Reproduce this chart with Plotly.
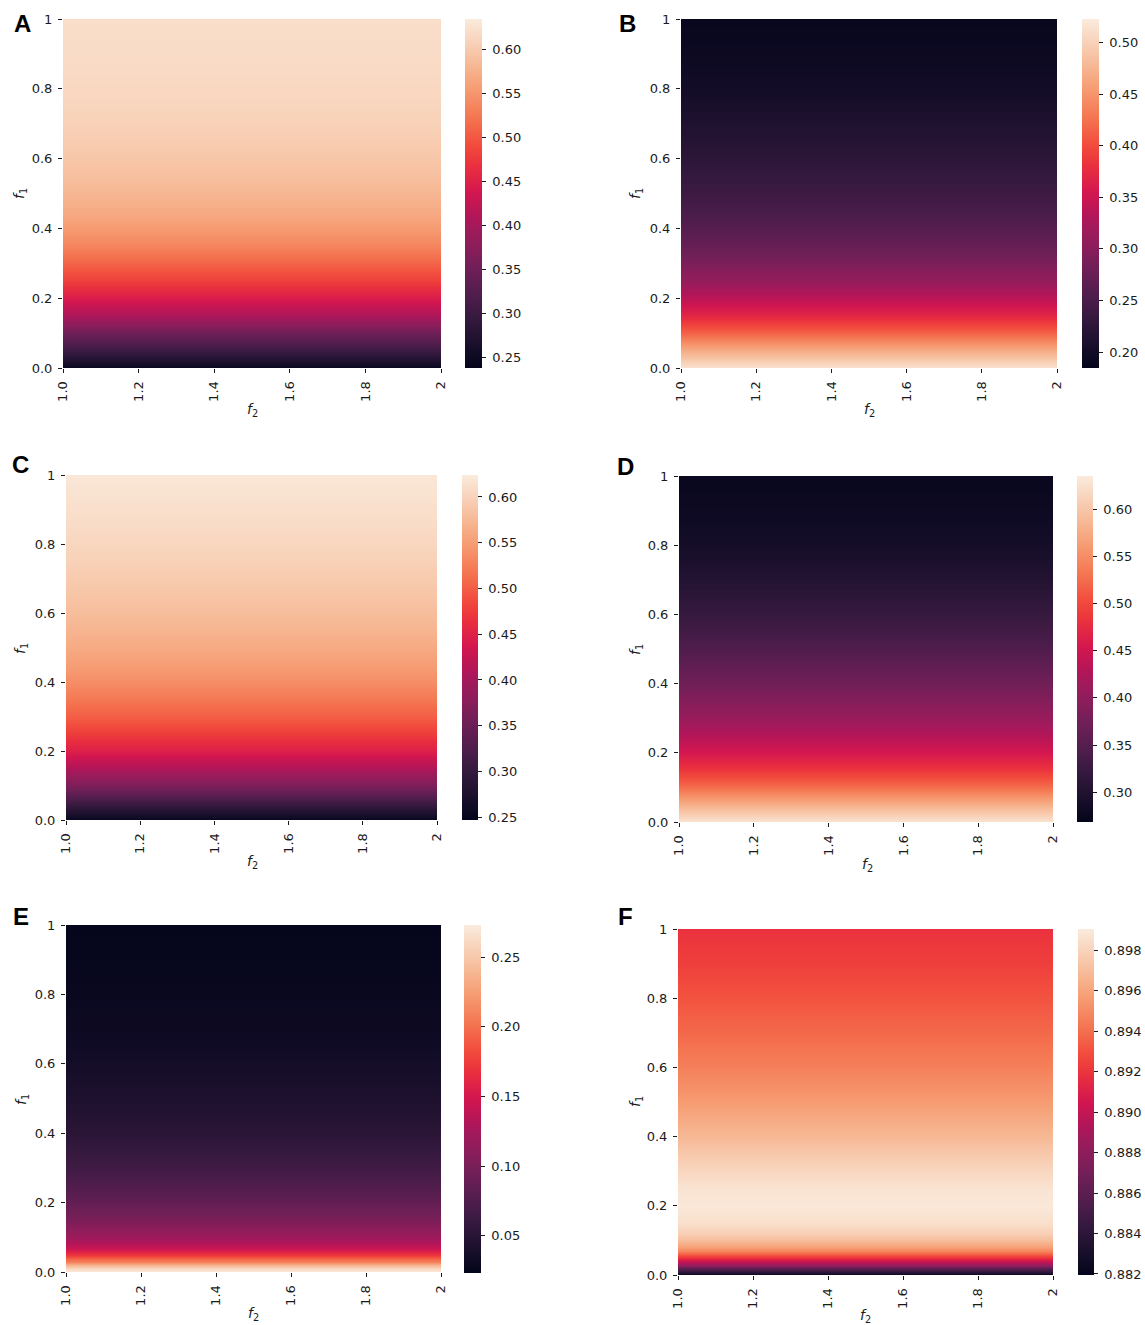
import plotly.graph_objects as go

W, H = 1145, 1325

# ---------------- data ----------------
f2_cols = [1.0, 2.0]
f2_tickvals = [1.0, 1.2, 1.4, 1.6, 1.8, 2.0]
f2_ticktext = ["1.0", "1.2", "1.4", "1.6", "1.8", "2"]
f1_tickvals = [0.0, 0.2, 0.4, 0.6, 0.8, 1.0]
f1_ticktext = ["0.0", "0.2", "0.4", "0.6", "0.8", "1"]

grid21 = [0.00, 0.05, 0.10, 0.15, 0.20, 0.25, 0.30, 0.35, 0.40, 0.45, 0.50,
          0.55, 0.60, 0.65, 0.70, 0.75, 0.80, 0.85, 0.90, 0.95, 1.00]

# Panel A
a_f1 = grid21
a_vals = [0.245, 0.300, 0.350, 0.405, 0.445, 0.480, 0.510, 0.535, 0.555, 0.570, 0.580,
          0.590, 0.597, 0.603, 0.608, 0.612, 0.615, 0.617, 0.619, 0.620, 0.621]
a_zrange = [0.2375, 0.635]
a_cticks = [0.25, 0.30, 0.35, 0.40, 0.45, 0.50, 0.55, 0.60]

# Panel B
b_f1 = grid21
b_vals = [0.515, 0.470, 0.415, 0.372, 0.338, 0.310, 0.290, 0.273, 0.260, 0.249, 0.240,
          0.232, 0.225, 0.218, 0.212, 0.206, 0.201, 0.197, 0.194, 0.191, 0.189]
b_zrange = [0.1845, 0.523]
b_cticks = [0.20, 0.25, 0.30, 0.35, 0.40, 0.45, 0.50]

# Panel C
c_f1 = grid21
c_vals = [0.252, 0.310, 0.365, 0.410, 0.447, 0.475, 0.500, 0.520, 0.537, 0.550, 0.561,
          0.571, 0.579, 0.586, 0.592, 0.598, 0.603, 0.608, 0.612, 0.616, 0.620]
c_zrange = [0.247, 0.624]
c_cticks = [0.25, 0.30, 0.35, 0.40, 0.45, 0.50, 0.55, 0.60]

# Panel D
d_f1 = grid21
d_vals = [0.628, 0.580, 0.525, 0.485, 0.455, 0.430, 0.408, 0.390, 0.374, 0.359, 0.345,
          0.333, 0.322, 0.312, 0.303, 0.295, 0.289, 0.284, 0.280, 0.277, 0.275]
d_zrange = [0.2685, 0.635]
d_cticks = [0.30, 0.35, 0.40, 0.45, 0.50, 0.55, 0.60]

# Panel E
e_f1 = [0.00, 0.01, 0.02, 0.03, 0.04, 0.05, 0.06, 0.07, 0.08, 0.10, 0.15, 0.20,
        0.25, 0.30, 0.40, 0.50, 0.60, 0.70, 0.80, 0.90, 1.00]
e_vals = [0.272, 0.262, 0.238, 0.210, 0.190, 0.172, 0.155, 0.143, 0.134, 0.121, 0.101, 0.087,
          0.075, 0.066, 0.052, 0.043, 0.036, 0.031, 0.028, 0.026, 0.025]
e_zrange = [0.0234, 0.273]
e_cticks = [0.05, 0.10, 0.15, 0.20, 0.25]

# Panel F
f_f1 = [0.00, 0.01, 0.02, 0.03, 0.04, 0.05, 0.06, 0.07, 0.08, 0.10, 0.12, 0.15,
        0.20, 0.25, 0.30, 0.35, 0.40, 0.45, 0.50, 0.60, 0.70, 0.80, 0.90, 1.00]
f_vals = [0.8820, 0.8840, 0.8862, 0.8884, 0.8903, 0.8918, 0.8935, 0.8948, 0.8958, 0.8970,
          0.8978, 0.8985, 0.8989, 0.8987, 0.8981, 0.8975, 0.8968, 0.8962, 0.8956, 0.8946,
          0.8938, 0.8931, 0.8924, 0.8919]
f_zrange = [0.88195, 0.89904]
f_cticks = [0.882, 0.884, 0.886, 0.888, 0.890, 0.892, 0.894, 0.896, 0.898]

# seaborn "rocket" colormap
rocket = [
    [0.0, "rgb(3,5,26)"],
    [0.0714, "rgb(27,16,45)"],
    [0.1429, "rgb(53,25,62)"],
    [0.2, "rgb(76,29,75)"],
    [0.2857, "rgb(112,31,87)"],
    [0.3571, "rgb(143,29,91)"],
    [0.4, "rgb(161,26,91)"],
    [0.4286, "rgb(175,22,89)"],
    [0.5, "rgb(210,22,80)"],
    [0.5714, "rgb(232,45,64)"],
    [0.6, "rgb(237,58,60)"],
    [0.6429, "rgb(242,78,62)"],
    [0.7143, "rgb(244,116,80)"],
    [0.8, "rgb(246,156,115)"],
    [0.8571, "rgb(246,180,143)"],
    [0.9286, "rgb(248,208,182)"],
    [1.0, "rgb(250,235,221)"],
]

# ---------------- layout geometry (pixels) ----------------
panels = [
    # letter, f1, vals, zrange, cticks, fmt, plot box (x0,x1,y0,y1), cbar (x0,x1,y0,y1), letter pos, ytitle pos, xtitle pos
    ("A", a_f1, a_vals, a_zrange, a_cticks, "{:.2f}", (63, 441, 19, 368), (465, 482, 19, 368), (22, 23), (20, 194), (252, 410)),
    ("B", b_f1, b_vals, b_zrange, b_cticks, "{:.2f}", (681, 1057, 19, 368), (1082, 1099, 19, 368), (627, 23), (636, 194), (869, 410)),
    ("C", c_f1, c_vals, c_zrange, c_cticks, "{:.2f}", (66, 437, 475, 820), (462, 478, 475, 820), (21, 464), (21, 648), (252, 862)),
    ("D", d_f1, d_vals, d_zrange, d_cticks, "{:.2f}", (679, 1053, 476, 822), (1077, 1093, 476, 822), (625, 466), (636, 650), (867, 865)),
    ("E", e_f1, e_vals, e_zrange, e_cticks, "{:.2f}", (66, 441, 925, 1272), (464, 481, 925, 1273), (21, 916), (22, 1100), (253, 1314)),
    ("F", f_f1, f_vals, f_zrange, f_cticks, "{:.3f}", (678, 1053, 929, 1275), (1078, 1094, 929, 1275), (625, 916), (636, 1102), (865, 1316)),
]

INK = "#1a1a1a"
TICK_FONT = dict(family="DejaVu Sans", size=13, color=INK)
NB = "\u00a0"

fig = go.Figure()
annotations = []

for i, (letter, f1, vals, zr, cticks, fmt, box, cb, lpos, ytpos, xtpos) in enumerate(panels):
    n = i + 1
    xa = "x" if n == 1 else f"x{n}"
    ya = "y" if n == 1 else f"y{n}"
    z = [[v for _ in f2_cols] for v in vals]
    x0, x1, y0, y1 = box
    cx0, cx1, cy0, cy1 = cb
    fig.add_trace(go.Heatmap(
        x=f2_cols, y=f1, z=z,
        colorscale=rocket, zmin=zr[0], zmax=zr[1], zsmooth="best",
        xaxis=xa, yaxis=ya,
        colorbar=dict(
            x=cx0 / W, xanchor="left", xref="paper",
            y=1 - cy0 / H, yanchor="top", yref="paper",
            len=cy1 - cy0, lenmode="pixels",
            thickness=cx1 - cx0, thicknessmode="pixels",
            xpad=0, ypad=0, outlinewidth=0,
            tickvals=cticks, ticktext=[NB + fmt.format(t) for t in cticks],
            ticks="outside", ticklen=4, tickwidth=1, tickcolor=INK,
            tickfont=TICK_FONT,
        ),
    ))
    xkey = "xaxis" if n == 1 else f"xaxis{n}"
    ykey = "yaxis" if n == 1 else f"yaxis{n}"
    fig.update_layout(**{
        xkey: dict(
            domain=[x0 / W, x1 / W], anchor=ya, range=[1, 2], automargin=False,
            tickvals=f2_tickvals, ticktext=f2_ticktext, tickangle=-90,
            ticks="outside", ticklen=4, tickwidth=1, tickcolor=INK, ticklabelstandoff=3,
            tickfont=TICK_FONT, showgrid=False, zeroline=False, showline=False,
        ),
        ykey: dict(
            domain=[1 - y1 / H, 1 - y0 / H], anchor=xa, range=[0, 1], automargin=False,
            tickvals=f1_tickvals, ticktext=f1_ticktext,
            ticks="outside", ticklen=4, tickwidth=1, tickcolor=INK, ticklabelstandoff=3,
            tickfont=TICK_FONT, showgrid=False, zeroline=False, showline=False,
        ),
    })
    annotations.append(dict(
        text=f"<b>{letter}</b>", x=lpos[0] / W, y=1 - lpos[1] / H,
        xref="paper", yref="paper", xanchor="center", yanchor="middle",
        showarrow=False, font=dict(family="Liberation Sans", size=24, color="black"),
    ))
    annotations.append(dict(
        text="<i>f</i><sub>1</sub>", x=ytpos[0] / W, y=1 - ytpos[1] / H,
        xref="paper", yref="paper", xanchor="center", yanchor="middle",
        textangle=-90, showarrow=False, font=dict(family="DejaVu Sans", size=14, color=INK),
    ))
    annotations.append(dict(
        text="<i>f</i><sub>2</sub>", x=xtpos[0] / W, y=1 - xtpos[1] / H,
        xref="paper", yref="paper", xanchor="center", yanchor="middle",
        showarrow=False, font=dict(family="DejaVu Sans", size=14, color=INK),
    ))

fig.update_layout(
    width=W, height=H, margin=dict(l=0, r=0, t=0, b=0, autoexpand=False),
    paper_bgcolor="white", plot_bgcolor="white",
    annotations=annotations, showlegend=False,
)

fig.write_html("out.html")
